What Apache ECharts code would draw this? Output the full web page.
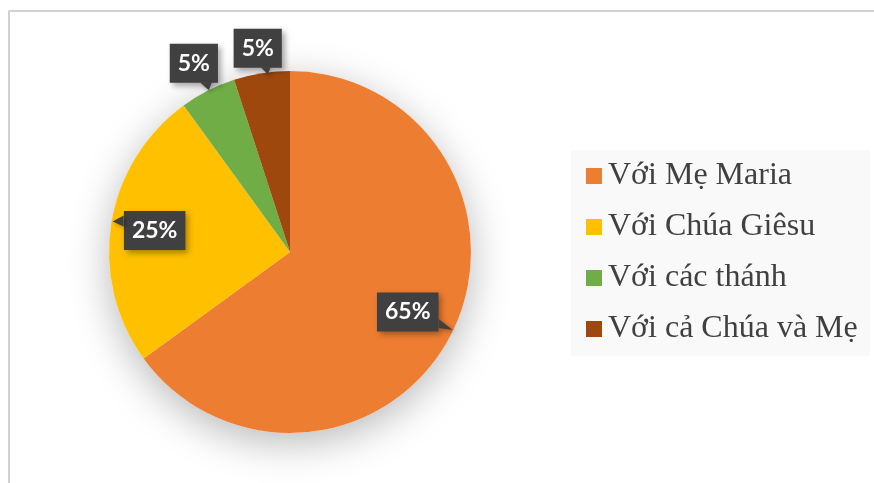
<!DOCTYPE html>
<html>
<head>
<meta charset="utf-8">
<script src="https://cdn.jsdelivr.net/npm/echarts@6/dist/echarts.min.js"></script>
<style>
  html, body { margin: 0; padding: 0; background: #fff; }
  #chart { width: 874px; height: 483px; }
</style>
</head>
<body>
<div id="chart"></div>
<script>
// du lieu bieu do
const categories = ['Với Mẹ Maria', 'Với Chúa Giêsu', 'Với các thánh', 'Với cả Chúa và Mẹ']
const values = [65, 25, 5, 5]
const colors = ['#ED7D31', '#FFC000', '#70AD47', '#9E480E']

const cx = 290
const cy = 252
const r = 181
// vi tri nhan theo ban kinh (ty le so voi r)
const labelDist = [0.73, 0.757, 1.17, 1.14]
// mui nhon cua khung nhan (toa do tuong doi voi tam nhan)
const pointers = [
  [[31, 7], [31, 16], [45, 18]],
  [[-31, -15], [-31, -4], [-42, -9]],
  [[6, 19], [18, 19], [15, 27]],
  [[3, 19], [13, 19], [10, 26]]
]

const total = values.reduce((a, b) => a + b, 0)
function midAngle(i) {
  let before = 0
  for (let k = 0; k < i; k++) before += values[k]
  return (before + values[i] / 2) / total * Math.PI * 2
}
function labelPos(i) {
  const a = midAngle(i)
  const d = labelDist[i] * r
  return [cx + d * Math.sin(a), cy - d * Math.cos(a)]
}

const graphics = [
  {
    type: 'rect',
    shape: { x: 9, y: 11, width: 900, height: 500 },
    style: { fill: 'none', stroke: '#c4c4c4', lineWidth: 1.5 },
    z: 0
  }
]
pointers.forEach((pts, i) => {
  const p = labelPos(i)
  graphics.push({
    type: 'polygon',
    z: 100,
    shape: { points: pts.map(q => [p[0] + q[0], p[1] + q[1]]) },
    style: {
      fill: '#404040',
      shadowBlur: 4,
      shadowOffsetX: 2,
      shadowOffsetY: 2,
      shadowColor: 'rgba(0,0,0,0.3)'
    }
  })
})

const myChart = echarts.init(document.getElementById('chart'))
myChart.setOption({
  animation: false,
  graphic: graphics,
  legend: {
    data: categories,
    orient: 'vertical',
    left: 571,
    top: 150,
    padding: [8, 12, 9, 15],
    backgroundColor: '#f9f9f9',
    itemWidth: 16,
    itemHeight: 16,
    itemGap: 15,
    icon: 'rect',
    selectedMode: false,
    textStyle: {
      fontFamily: 'Liberation Serif',
      fontSize: 32,
      lineHeight: 36,
      color: '#404040',
      padding: [0, 0, 0, 1]
    }
  },
  series: [
    {
      // bong do phia sau hinh tron
      type: 'pie',
      silent: true,
      center: [cx, cy],
      radius: r,
      z: 1,
      label: { show: false },
      labelLine: { show: false },
      itemStyle: {
        color: '#ffffff',
        shadowBlur: 40,
        shadowOffsetY: 10,
        shadowColor: 'rgba(0,0,0,0.28)'
      },
      data: [{ value: 1, name: '' }]
    },
    {
      type: 'pie',
      center: [cx, cy],
      radius: r,
      startAngle: 90,
      clockwise: true,
      z: 2,
      silent: true,
      itemStyle: { borderWidth: 0 },
      label: {
        show: true,
        position: 'inside',
        formatter: '{d}%',
        color: '#ffffff',
        fontFamily: 'Lato',
        fontWeight: 'bold',
        fontSize: 23,
        backgroundColor: '#404040',
        padding: [8, 8, 8, 8],
        shadowBlur: 6,
        shadowOffsetX: 3,
        shadowOffsetY: 3,
        shadowColor: 'rgba(0,0,0,0.35)'
      },
      labelLine: { show: false },
      labelLayout: function (params) {
        const p = labelPos(params.dataIndex)
        return {
          x: p[0],
          y: p[1],
          align: 'center',
          verticalAlign: 'middle'
        }
      },
      data: categories.map((c, i) => ({
        name: c,
        value: values[i],
        itemStyle: { color: colors[i] }
      }))
    }
  ]
})
</script>
</body>
</html>
